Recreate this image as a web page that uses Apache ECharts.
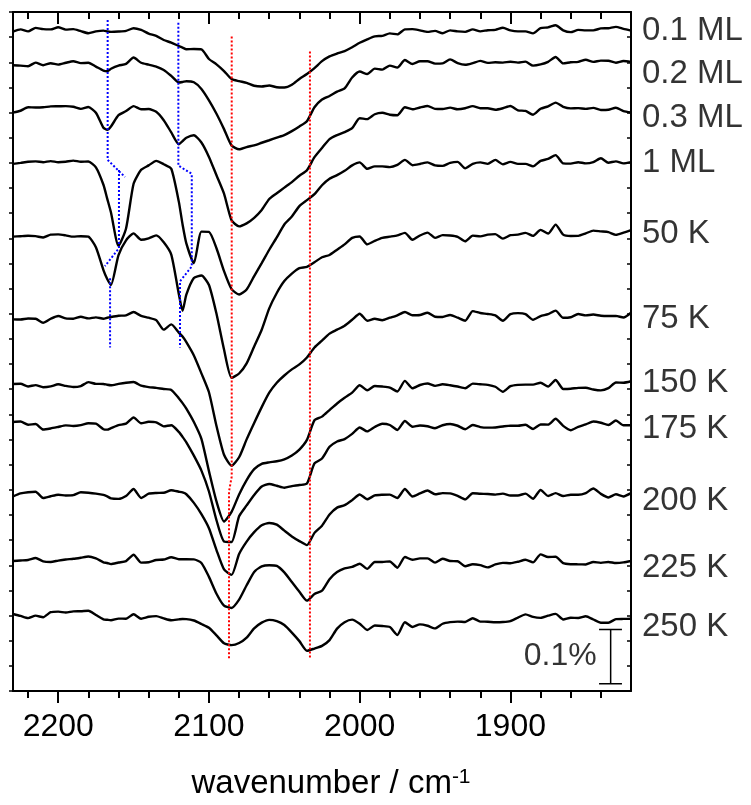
<!DOCTYPE html>
<html>
<head>
<meta charset="utf-8">
<script src="https://cdn.jsdelivr.net/npm/echarts@6.0.0/dist/echarts.min.js"></script>
<style>
  html, body { margin: 0; padding: 0; background: #fff; }
  #chart { width: 751px; height: 805px; }
</style>
</head>
<body>
<div id="chart"></div>
<script>
// ---------------- DATA ----------------
// wavenumber grid (cm^-1)
const wavenumbers = [2230,2225,2220,2215,2210,2205,2200,2195,2190,2185,2180,2175,2170,2167.5,2165,2160,2155,2150,2145,2140,2135,2130,2125,2120,2117.5,2115,2110,2105,2100,2095,2090,2085,2080,2075,2070,2065,2060,2055,2050,2045,2040,2035,2030,2025,2020,2015,2010,2005,2000,1995,1990,1985,1980,1975,1970,1965,1960,1955,1950,1945,1940,1935,1930,1925,1920,1915,1910,1905,1900,1895,1890,1885,1880,1875,1870,1865,1860,1855,1850,1845,1840,1835,1830,1825,1820];

// spectrum names (right-hand labels)
const traceNames = ['0.1 ML','0.2 ML','0.3 ML','1 ML','50 K','75 K','150 K','175 K','200 K','225 K','250 K'];
// vertical offset of each spectrum (units of 0.01 %)
const offsets = [121.58,115.81,106.49,97.35,84.85,69.63,57.02,48.92,36.42,23.94,13.29];
// vertical position of each label (units of 0.01 %)
const labelY = [121.58,113.58,105.45,97.13,84.1,68.48,56.65,48.3,35.0,22.72,11.75];

// spectra: change relative to the right-end baseline (units of 0.01 %)
const t01 = [-0.18,0.22,-0.15,0.49,0.26,0.22,0.62,0.18,0.26,-0.11,-0.48,-0.15,0,-0.15,-0.24,-0.18,-0.05,0.44,0.13,-0.55,-0.97,-1.74,-2.21,-2.85,-3.13,-3.44,-3.40,-3.46,-5.23,-6.22,-7.46,-8.92,-9.31,-9.62,-10.16,-10.29,-10.11,-10.44,-10.48,-9.98,-8.90,-8.01,-6.91,-5.63,-4.75,-4.22,-3.77,-3.07,-2.25,-1.61,-1.06,-0.97,-0.51,-0.69,0.22,0.26,0.04,-0.24,-0.05,-0.48,0.04,-0.15,-0.24,0.22,-0.15,0.07,0.13,0.53,0.04,-0.15,-0.15,-0.51,0.44,0.59,0.99,0.04,-0.29,0.13,0.04,0.04,0.40,0.44,0.69,0.31,0];
const t02 = [-0.62,-0.68,-0.79,-0.13,-0.6,-0.24,-0.49,-0.16,0.11,-0.22,-0.16,-0.86,-1.59,-1.72,-1.26,-0.68,-0.37,0.8,-0.16,-0.51,-0.86,-1.48,-2.57,-3.78,-3.69,-3.55,-3.75,-4.97,-7.07,-9.54,-12.37,-15.39,-16.09,-15.67,-15.36,-14.88,-14.42,-13.93,-13.47,-12.74,-11.88,-10.91,-8.35,-6.93,-6.27,-5.48,-4.88,-2.87,-1.77,-2.23,-1.23,-1.41,-0.68,-1.04,0.35,-0.38,0.11,0.11,-0.31,-0.27,0.46,-0.22,-0.53,-0.22,0.2,-0.18,-0.07,-0.13,0.04,-0.13,0.05,-0.68,-0.46,0.02,0.91,-0.27,-0.07,0,0.4,0,0.24,0.22,-0.16,0.16,0];
const t03 = [0,0.33,0.97,0.93,0.97,1.13,1.15,1.19,1.06,0.68,1.02,-0.04,-2.8,-3.18,-2.56,-0.49,0.27,1.19,0.6,0.64,0.15,-1.41,-3.66,-5.83,-5.25,-4.64,-4.19,-5.52,-8.17,-11.55,-14.93,-19.84,-20.95,-20.4,-19.38,-17.93,-15.92,-14.86,-13.82,-12.81,-11.63,-10.62,-8.21,-6.51,-4.88,-4.15,-3.6,-2.87,-1.04,-1.22,-0.31,-0.04,-0.4,-0.49,0.97,0.6,0.93,1.21,0.68,0.64,0.9,0.6,0.79,1.19,0.79,0.79,0.51,0.79,1.21,0.42,0.29,-0.4,0.69,1.15,1.83,1.06,0.77,0.82,0.68,0.86,0.46,0.51,0.88,0.26,0];
const t1ML = [-0.31,-0.13,0.09,0.15,0,0.2,0,0.09,0.29,0.09,0.13,-0.95,-4.15,-6.71,-9.27,-15.4,-12.19,-3.97,-1.41,-0.59,0.24,-0.37,-1.22,-7.26,-11.46,-14.94,-18.59,-12.79,-12.83,-15.85,-20.05,-23.36,-24.36,-23.44,-20.97,-18.59,-16.12,-13.84,-11.46,-10,-8.08,-6.98,-5.89,-4.24,-3.05,-2.38,-1.59,-0.59,-0.04,-1.22,-0.77,-0.77,-0.91,-0.49,0.42,-0.55,-0.33,-0.04,-0.59,-0.68,-0.13,0.05,-1.13,-0.31,-0.04,-0.31,0.42,-0.4,0.05,-0.31,-0.31,-0.77,0.24,0.6,1.3,-0.22,-0.26,0,-0.22,0.02,0.73,-0.09,0.15,-0.22,0];
const t50K = [-1.21,-1.12,-1.04,-1.12,-1.37,-0.84,-0.79,-0.97,-1.21,-1.12,-1.21,-3.16,-7.37,-9.01,-10.1,-4.62,-1.88,-0.6,-1.79,-1.52,-0.97,-2.25,-4.53,-11.76,-14.86,-11.88,-8.82,-8.37,-10.11,-15.41,-22.0,-27.2,-26.4,-24.55,-21.44,-18.34,-14.41,-11.58,-9.39,-8.02,-7.01,-6.76,-5.92,-5.0,-4.58,-3.6,-2.63,-1.44,-1.17,-2.63,-1.99,-1.44,-1.21,-0.97,-0.51,-1.79,-1.0,-0.46,-1.43,-0.93,-1.0,-1.24,-2.06,-1.02,-1.15,-0.84,-0.75,-1.57,-0.93,-0.84,-0.51,-1.06,0.04,-0.64,1.0,-0.83,-1.08,-1.06,-0.6,-0.09,-0.24,-0.38,-0.88,-0.48,0];
const t75K = [-1.22,-1.24,-1.06,-1.1,-1.83,-1.1,-0.6,-1.04,-1.1,-0.73,-1.04,-0.84,-1.1,-0.91,-0.77,-0.55,-0.48,0.13,-0.58,-0.91,-1.35,-3.11,-2.14,-3.66,-4.39,-5.41,-7.86,-11.15,-14.63,-20.84,-26.14,-28.15,-26.6,-23.31,-20.29,-17.37,-14.72,-12.89,-11.55,-10.42,-9.51,-8.23,-6.4,-5.12,-3.84,-3.11,-2.38,-1.28,-0.18,-1.46,-1.1,-1.37,-0.91,-0.46,0.15,-0.46,-0.4,0,-0.73,-0.77,-0.4,-0.91,-1.46,0.31,-0.04,-0.22,-0.48,-1.46,-0.26,-0.06,-0.24,-1.28,-0.62,-0.26,0.4,-0.93,-0.82,-0.24,-0.48,-0.33,-0.55,-0.6,-0.58,-0.88,0];
const t150K = [-0.49,-0.46,-0.95,-0.71,-1.1,-0.95,-0.55,-0.86,-1.06,-0.88,-0.15,-0.48,-0.49,-0.64,-0.73,-0.48,-0.27,-0.13,-0.82,-1.08,-1.22,-1.43,-1.59,-3.11,-4.02,-5.03,-7.5,-10.6,-16.54,-22.12,-25.81,-24.04,-20.84,-18.19,-16.18,-15.21,-14.93,-14.73,-14.37,-13.67,-12.58,-10.79,-7.18,-6.51,-5.3,-4.09,-3.05,-2.1,-0.73,-1.66,-0.86,-0.97,-1.17,-1.88,0.07,-1.28,-0.69,-0.42,-0.84,-0.55,-0.73,-0.97,-1.28,-0.44,-0.55,-0.66,-1.01,-1.92,-0.91,-0.66,-0.62,-0.62,-0.27,-0.97,0.24,-1.41,-1.37,-1.21,-1.19,-1.52,-1.68,-1.26,-0.22,-0.27,0];
const t175K = [0.6,0.69,0.09,0.24,-0.79,-0.59,-0.31,-0.02,-0.13,0.02,0.38,0.29,-0.73,-0.8,-0.53,0.02,0.29,1.43,0.37,0.64,0.55,-0.2,0,-1.22,-2.14,-3.14,-5.6,-8.35,-12.19,-17.49,-21.4,-21.5,-16.76,-14.75,-12.83,-11.28,-10.8,-11.13,-11.5,-11.2,-11.0,-10.73,-7.03,-6.13,-3.97,-2.98,-2.54,-1.59,-0.4,-1.13,-0.31,0.27,0.05,-0.86,0.79,-0.26,-0.05,-0.18,-0.55,0,0.24,-0.09,-0.73,0.05,-0.33,-0.44,-0.4,-0.22,-0.07,-0.09,0.09,-0.68,0.15,0.11,1.19,-0.11,-0.91,-0.29,0.16,0.68,0.46,0.05,0.88,0,0];
const t200K = [-0.6,-0.05,0.18,0.27,-0.9,-0.57,-0.29,-0.42,-0.37,0.16,0.07,-0.09,-0.33,-0.6,-0.97,-1.06,-0.53,0.77,-0.88,-0.09,0.04,0.07,0.55,0.27,0.13,-0.2,-1.79,-3.86,-6.45,-10.47,-14.04,-15.04,-11.2,-8.91,-7.18,-5.9,-5.48,-5.8,-6.9,-7.97,-8.83,-9.56,-7.31,-5.99,-3.94,-2.66,-2.21,-1.28,-0.24,-1.12,-0.42,-0.29,-0.27,-0.88,0.77,-0.6,-0.04,0.49,-0.2,0,-0.04,-0.51,-1.15,-0.02,-0.11,-0.15,-0.26,-0.09,-0.42,-0.42,-0.09,-1.02,0.59,-0.51,0,-0.53,-0.29,-0.29,0.02,0.86,-0.13,-0.79,-0.2,-0.6,0];
const t225K = [0,0.09,0.18,0.55,-0.07,-0.18,0.07,0.27,0.4,0.6,0.82,0.46,-0.24,-0.37,-0.59,-0.29,-0.02,1.15,-0.31,-0.24,0.18,0.27,0.69,0.31,0.31,0.31,0.29,-0.37,-2.93,-6.03,-8.23,-8.65,-7.13,-4.48,-2.01,-1.01,-0.79,-0.91,-2.1,-3.88,-5.67,-7.31,-6.09,-5.48,-3.35,-2.05,-1.37,-1.1,-0.51,-1.46,-0.18,-0.18,-0.09,-1.24,0.73,0.22,0.48,0.48,-0.31,0.4,0,-0.05,-0.97,-0.6,-0.77,-1.19,-0.64,-0.35,-0.42,-0.15,0.22,-0.27,1.21,0.73,0.77,-0.4,-0.6,-0.62,-0.64,-0.18,-0.35,-0.18,-0.37,-0.27,0];
const t250K = [0.88,0.53,0.13,0.58,0.29,1.21,1.32,1.15,1.37,1.39,1.48,0.69,-0.09,-0.18,-0.27,0.04,0.02,0.84,0.02,0.37,0.49,0.07,-0.26,-0.11,-0.04,-0.05,-0.31,-0.95,-1.66,-3.05,-4.51,-4.84,-4.46,-3.45,-1.77,-0.71,-0.2,-0.44,-1.15,-2.54,-4.11,-5.89,-5.47,-4.99,-3.93,-1.81,-0.62,-0.15,-0.9,-2.05,-1.24,-1.33,-1.52,-2.98,-0.64,-1.5,-1.02,-1.28,-1.77,-0.91,-0.62,-0.51,-0.59,0.11,-0.51,-0.53,-0.64,-0.6,-0.42,0.22,0.82,0.35,0.18,0.57,0.91,-0.13,0.2,0.16,0.46,-0.13,-0.73,-0.73,-0.05,-0.02,0];

// guide lines [wavenumber, value]
const blueGuide1a = [[2167.2,123.54],[2167.2,97.77],[2155.7,94.61]];
const blueGuide1b = [[2159.7,95.9],[2159.7,81.51],[2169.0,78.22]];
const blueGuide1c = [[2165.6,76.0],[2165.6,63.23]];
const blueGuide2  = [[2120.3,123.04],[2120.3,96.73],[2111.4,95.21],[2111.4,78.16],[2119.2,75.42],[2119.2,63.23]];
const redGuide1   = [[2084.9,120.49],[2084.9,39.47],[2086.7,36.73],[2086.7,6.03]];
const redGuide2   = [[2033.0,117.75],[2033.0,6.03]];

// scale bar: 0.1 % = 10 units
const scaleBarX = 1833.5;
const scaleBarCapX = [1841.2, 1826.0];
const scaleBarY = [1.33, 11.33];
const scaleBarText = '0.1%';

// axis ticks
const xMajorTicks = [2200, 2100, 2000, 1900];
const xMinorTicks = [2220,2180,2160,2140,2120,2080,2060,2040,2020,1980,1960,1940,1920,1880,1860,1840];

// ---------------- CHART ----------------
const FONT = '"Liberation Sans", Arial, Helvetica, sans-serif';
const X_MIN = 1820, X_MAX = 2230, Y_MAX = 125;
const traces = [t01, t02, t03, t1ML, t50K, t75K, t150K, t175K, t200K, t225K, t250K];

const chart = echarts.init(document.getElementById('chart'), null, { renderer: 'canvas' });

function xAx(opts) {
  return Object.assign({
    type: 'value', min: X_MIN, max: X_MAX, inverse: true, gridIndex: 0,
    splitLine: { show: false }, axisLabel: { show: false },
    axisLine: { show: false, onZero: false }
  }, opts);
}
function yTickAx(pos, inside) {
  return {
    type: 'value', min: 0, max: 27, interval: 1, position: pos, gridIndex: 0,
    axisLine: { show: true, onZero: false, lineStyle: { color: '#000', width: 2 } },
    axisTick: { show: true, inside: inside, length: 4, lineStyle: { color: '#000', width: 1.5 } },
    axisLabel: { show: false }, splitLine: { show: false }
  };
}

const series = [];
traces.forEach((tr, i) => {
  const n = Math.min(tr.length, wavenumbers.length);
  const d = [];
  for (let k = 0; k < n; k++) d.push([wavenumbers[k], offsets[i] + tr[k]]);
  series.push({
    type: 'line', name: traceNames[i], xAxisIndex: 0, yAxisIndex: 0,
    data: d, symbol: 'none', showSymbol: false, silent: true, z: 3, smooth: 0.2,
    lineStyle: { color: '#000', width: 2.4 }
  });
});

function guide(data, color) {
  return {
    type: 'line', xAxisIndex: 0, yAxisIndex: 0, data: data, symbol: 'none',
    silent: true, z: 4, lineStyle: { color: color, width: 2, type: 'dotted' }
  };
}
series.push(guide(blueGuide1a, '#0000ff'));
series.push(guide(blueGuide1b, '#0000ff'));
series.push(guide(blueGuide1c, '#0000ff'));
series.push(guide(blueGuide2, '#0000ff'));
series.push(guide(redGuide1, '#ff0000'));
series.push(guide(redGuide2, '#ff0000'));

// scale bar
function barSeg(data) {
  return { type: 'line', xAxisIndex: 0, yAxisIndex: 0, data: data, symbol: 'none',
    silent: true, z: 3, lineStyle: { color: '#000', width: 1.5 } };
}
series.push(barSeg([[scaleBarX, scaleBarY[0]], [scaleBarX, scaleBarY[1]]]));
series.push(barSeg([[scaleBarCapX[0], scaleBarY[0]], [scaleBarCapX[1], scaleBarY[0]]]));
series.push(barSeg([[scaleBarCapX[0], scaleBarY[1]], [scaleBarCapX[1], scaleBarY[1]]]));
series.push({
  type: 'scatter', xAxisIndex: 0, yAxisIndex: 0, symbolSize: 0, silent: true, clip: false,
  data: [[scaleBarX, (scaleBarY[0] + scaleBarY[1]) / 2]],
  label: { show: true, position: 'left', distance: 14, formatter: scaleBarText,
    fontSize: 32, fontFamily: FONT, color: '#000' }
});

// right-hand labels
series.push({
  type: 'scatter', xAxisIndex: 0, yAxisIndex: 0, symbolSize: 0, silent: true, clip: false,
  data: traceNames.map((nm, i) => ({ value: [X_MIN, labelY[i]], name: nm })),
  label: { show: true, position: 'right', distance: 11, formatter: p => p.name,
    fontSize: 33, fontFamily: FONT, color: '#000' }
});

const option = {
  animation: false,
  backgroundColor: '#fff',
  textStyle: { color: '#000', fontFamily: FONT },
  grid: { left: 13, right: 120, top: 12, bottom: 109, containLabel: false },
  xAxis: [
    xAx({
      position: 'bottom',
      axisLine: { show: true, onZero: false, lineStyle: { color: '#000', width: 2 } },
      axisTick: { show: true, customValues: xMajorTicks, inside: false, length: 12, lineStyle: { color: '#000', width: 2 } },
      axisLabel: { show: true, customValues: xMajorTicks, margin: 20, fontSize: 32, fontFamily: FONT, color: '#000',
        formatter: v => String(v) },
      name: 'wavenumber / cm{sup|-1}', nameLocation: 'middle', nameGap: 76,
      nameTextStyle: { color: '#000', fontSize: 33, fontFamily: FONT, padding: [0, 0, 0, 18],
        rich: { sup: { fontSize: 21, fontFamily: FONT, color: '#000', verticalAlign: 'top', padding: [0, 0, 8, 0] } } }
    }),
    xAx({ position: 'bottom',
      axisTick: { show: true, customValues: xMinorTicks, inside: false, length: 7, lineStyle: { color: '#000', width: 2 } } }),
    xAx({ position: 'top',
      axisLine: { show: true, onZero: false, lineStyle: { color: '#000', width: 2 } },
      axisTick: { show: true, customValues: xMajorTicks, inside: true, length: 12, lineStyle: { color: '#000', width: 2 } } }),
    xAx({ position: 'top',
      axisTick: { show: true, customValues: xMinorTicks, inside: true, length: 7, lineStyle: { color: '#000', width: 2 } } })
  ],
  yAxis: [
    { type: 'value', min: 0, max: Y_MAX, show: false, gridIndex: 0 },
    yTickAx('left', false),
    yTickAx('right', true)
  ],
  series: series
};
chart.setOption(option);
</script>
</body>
</html>
